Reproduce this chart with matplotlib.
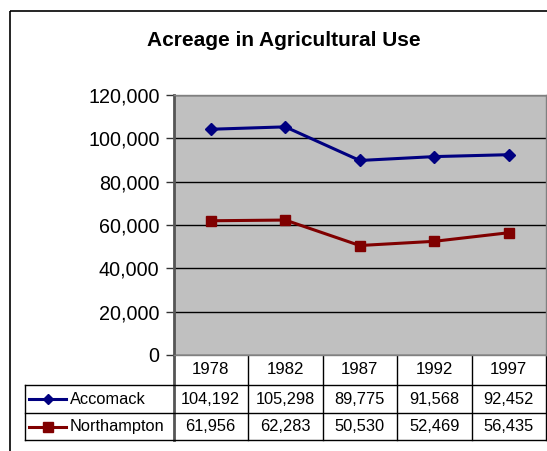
import matplotlib
matplotlib.use("Agg")
import matplotlib.pyplot as plt
from matplotlib.transforms import blended_transform_factory
from matplotlib.patches import Rectangle

years = ["1978", "1982", "1987", "1992", "1997"]
accomack = [104192, 105298, 89775, 91568, 92452]
northampton = [61956, 62283, 50530, 52469, 56435]
series_names = ["Accomack", "Northampton"]
yticks = [0, 20000, 40000, 60000, 80000, 100000, 120000]

plt.rcParams['font.family'] = ['Liberation Sans', 'DejaVu Sans']

W, H = 547, 451
fig = plt.figure(figsize=(W / 100, H / 100), dpi=100)

# overlay in pixel coords for frame + table
ov = fig.add_axes([0, 0, 1, 1])
ov.set_xlim(0, W)
ov.set_ylim(H, 0)
ov.axis('off')
ov.add_patch(Rectangle((10, 11), 560, 460, fill=False, edgecolor='black', linewidth=1.2))

# plot area
L, R, T, B = 173.5, 546, 95, 355
ax = fig.add_axes([L / W, 1 - B / H, (R - L) / W, (B - T) / H])
ax.set_facecolor('#C0C0C0')
x = range(len(years))
ax.plot(x, accomack, color='#000080', marker='D', markersize=6, linewidth=2.2)
ax.plot(x, northampton, color='#800000', marker='s', markersize=6.5, linewidth=2.2)
ax.set_xlim(-0.5, len(years) - 0.5)
ax.set_ylim(0, 120000)
ax.set_yticks(yticks)
ax.set_yticklabels([f"{v:,}" for v in yticks], fontsize=14.2)
ax.set_xticks([])
ax.yaxis.grid(True, color='black', linewidth=1)
ax.set_axisbelow(True)
for s in ['top', 'right', 'bottom']:
    ax.spines[s].set_color('#808080')
    ax.spines[s].set_linewidth(1)
ax.spines['left'].set_color('#555555')
ax.spines['left'].set_linewidth(2)
ax.tick_params(axis='y', length=6, width=1, color='#333333', pad=4)

fig.text(284 / W, 1 - 40 / H, "Acreage in Agricultural Use",
         fontsize=15, fontweight='bold', ha='center', va='center')

# data table under the chart
tr = blended_transform_factory(ax.transData, ov.transData)
row_y = [385, 413, 440]
ov.plot([L, L], [B, row_y[-1]], color='#555555', linewidth=2)
for yy in row_y:
    ov.plot([25, R], [yy, yy], color='black', linewidth=1)
ov.plot([25, 25], [row_y[0], row_y[-1]], color='black', linewidth=1)
for i in range(len(years)):
    ov.plot([i + 0.5, i + 0.5], [B, row_y[-1]], color='black', linewidth=1, transform=tr)
for i, yr in enumerate(years):
    ov.text(i, 370, yr, fontsize=12.2, ha='center', va='center', transform=tr)

rows = [accomack, northampton]
styles = [('#000080', 'D', 5), ('#800000', 's', 6.5)]
for r, (vals, name, (col, mk, ms)) in enumerate(zip(rows, series_names, styles)):
    yc = (row_y[r] + row_y[r + 1]) / 2
    ov.plot([29, 66], [yc, yc], color=col, linewidth=2.2)
    ov.plot([47.5], [yc], color=col, marker=mk, markersize=ms)
    ov.text(70, yc, name, fontsize=11.8, ha='left', va='center')
    for i, v in enumerate(vals):
        ov.text(i, yc, f"{v:,}", fontsize=11.8, ha='center', va='center', transform=tr)

fig.savefig("out.png", dpi=100)
